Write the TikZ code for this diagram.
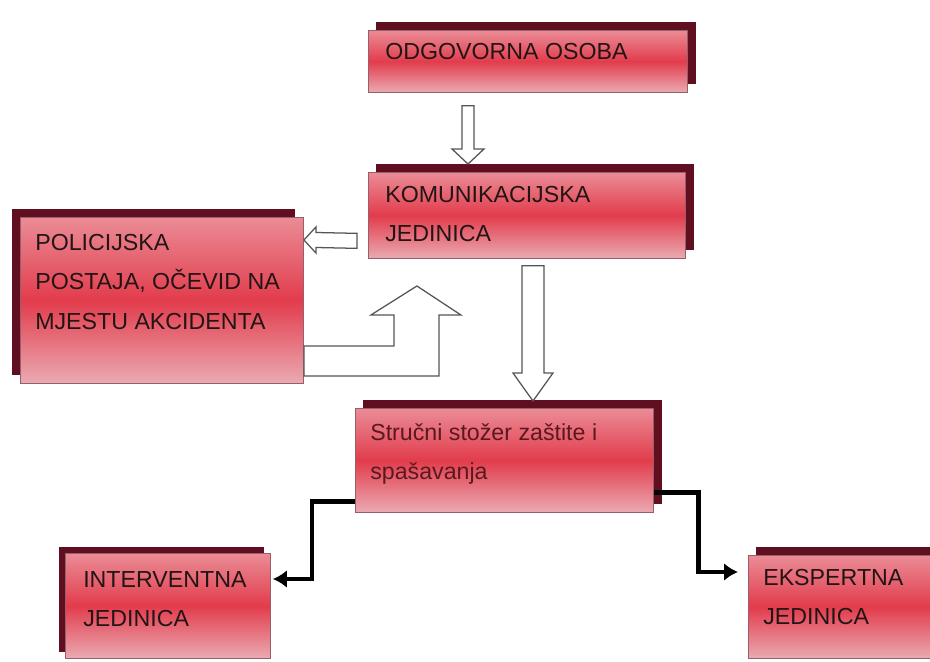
\documentclass[tikz,border=0pt]{standalone}
\usepackage{fontspec}
\setmainfont{Liberation Sans}
\usetikzlibrary{calc,shadows,arrows.meta}

\definecolor{boxtop}{RGB}{234,140,150}
\definecolor{boxmid}{RGB}{226,60,76}
\definecolor{boxbot}{RGB}{234,170,178}
\definecolor{boxline}{RGB}{150,95,105}
\definecolor{boxshade}{RGB}{95,15,32}
\definecolor{arrowgray}{RGB}{85,85,85}
\definecolor{darktext}{RGB}{35,20,22}
\definecolor{redtext}{RGB}{90,25,32}

% hollow block arrows: start, tip, shaft half width, head half width, head length
\newcommand{\hollowdown}[5]{%
  \draw[hollow] ($(#1)+(-#3,0)$) -- ($(#2)+(-#3,-#5)$) -- ($(#2)+(-#4,-#5)$) -- (#2)
    -- ($(#2)+(#4,-#5)$) -- ($(#2)+(#3,-#5)$) -- ($(#1)+(#3,0)$) -- cycle;}
\newcommand{\hollowleft}[5]{%
  \draw[hollow] ($(#1)+(0,-#3)$) -- ($(#2)+(#5,-#3)$) -- ($(#2)+(#5,-#4)$) -- (#2)
    -- ($(#2)+(#5,#4)$) -- ($(#2)+(#5,#3)$) -- ($(#1)+(0,#3)$) -- cycle;}

\begin{document}
\begin{tikzpicture}[x=0.025cm,y=-0.025cm,
    box/.style={draw=boxline, line width=0.6pt, inner sep=0pt, anchor=north west,
      top color=boxtop, bottom color=boxbot, middle color=boxmid},
    shadowright/.style={drop shadow={shadow xshift=0.2cm, shadow yshift=0.2cm, fill=boxshade, opacity=1}},
    shadowleft/.style={drop shadow={shadow xshift=-0.2cm, shadow yshift=0.2cm, fill=boxshade, opacity=1}},
    lbl/.style={anchor=north west, inner sep=0pt, align=left, text=darktext,
      font=\fontsize{16.5}{28}\selectfont},
    hollow/.style={draw=arrowgray, fill=white, line width=0.9pt, line join=miter},
    link/.style={line width=3.5pt, line join=miter, -{Latex[length=0.35cm,width=0.45cm]}}]
  \clip (0,0) rectangle (930,662);
  \fill[white] (0,0) rectangle (930,662);

  \node[box, shadowright, minimum width=7.975cm, minimum height=1.55cm] (odg) at (368,30) {};
  \node[box, shadowright, minimum width=7.925cm, minimum height=2.15cm] (kom) at (368,172) {};
  \node[box, shadowleft, minimum width=7.075cm, minimum height=4.15cm] (pol) at (20,217) {};
  \node[box, shadowright, minimum width=7.45cm, minimum height=2.6cm] (str) at (355,408) {};
  \node[box, drop shadow={shadow xshift=-0.15cm, shadow yshift=0.15cm, fill=boxshade, opacity=1},
    minimum width=5.125cm, minimum height=2.625cm] (int) at (65,553) {};
  \node[box, shadowright, minimum width=4.65cm, minimum height=2.575cm] (eks) at (748,555) {};

  \node[lbl] (odgtxt) at ($(odg.north west)+(17,13)$) {ODGOVORNA OSOBA};
  \node[lbl] (komtxt) at ($(kom.north west)+(17,14)$) {KOMUNIKACIJSKA\\JEDINICA};
  \node[lbl] (poltxt) at ($(pol.north west)+(15,17)$) {POLICIJSKA\\POSTAJA, OČEVID NA\\MJESTU AKCIDENTA};
  \node[lbl, text=redtext] (strtxt) at ($(str.north west)+(15,15)$) {Stručni stožer zaštite i\\spašavanja};
  \node[lbl] (inttxt) at ($(int.north west)+(18,18)$) {INTERVENTNA\\JEDINICA};
  \node[lbl] (ekstxt) at ($(eks.north west)+(15,14)$) {EKSPERTNA\\JEDINICA};

  \coordinate (a1) at ($(odg.south west)+(100,13)$);
  \coordinate (b1) at ($(kom.north west)+(100,-8)$);
  \hollowdown{a1}{b1}{6}{16}{15}
  \coordinate (a2) at ($(kom.south west)+(165,7)$);
  \coordinate (b2) at ($(str.north west)+(178,-7)$);
  \hollowdown{a2}{b2}{11}{20}{28}
  \coordinate (a3) at ($(kom.south west)+(-11,-18)$);
  \coordinate (b3) at ($(pol.north east)+(0,23)$);
  \hollowleft{a3}{b3}{7.5}{13}{12}
  \draw[hollow] ($(pol.north east)+(0,129)$) -- ++(90,0) -- ++(0,-31) -- ++(-23,0)
    -- ++(46,-29) -- ++(44,29) -- ++(-22,0) -- ++(0,61) -- ++(-135,0) -- cycle;

  \coordinate (i1) at ($(int.north east)+(2,26)$);
  \draw[link] ($(str.south west)+(0,-11)$) -- ++(-43,0) |- (i1);
  \coordinate (e1) at ($(eks.north west)+(-10,17)$);
  \draw[link] ($(str.south east)+(0,-20)$) -- ++(45,0) |- (e1);
\end{tikzpicture}
\end{document}
